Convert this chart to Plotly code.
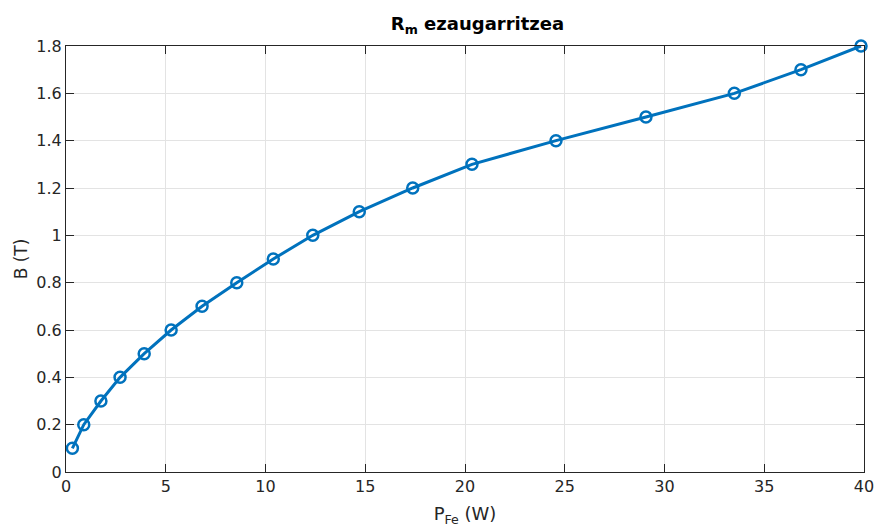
import plotly.graph_objects as go

# Data
P_Fe = [0.32, 0.89, 1.75, 2.71, 3.92, 5.27, 6.82, 8.56, 10.39, 12.37,
        14.70, 17.38, 20.35, 24.56, 29.07, 33.50, 36.84, 39.85]
B = [0.1, 0.2, 0.3, 0.4, 0.5, 0.6, 0.7, 0.8, 0.9, 1.0,
     1.1, 1.2, 1.3, 1.4, 1.5, 1.6, 1.7, 1.8]

x_ticks = [0, 5, 10, 15, 20, 25, 30, 35, 40]
y_ticks = [0, 0.2, 0.4, 0.6, 0.8, 1.0, 1.2, 1.4, 1.6, 1.8]
y_ticklabels = ["0", "0.2", "0.4", "0.6", "0.8", "1", "1.2", "1.4", "1.6", "1.8"]

LINE = "#0072BD"
AX = "#262626"
GRID = "#e3e3e3"
FONT = "DejaVu Sans"

fig = go.Figure()
fig.add_trace(go.Scatter(
    x=P_Fe, y=B, mode="lines+markers", cliponaxis=False,
    line=dict(color=LINE, width=3),
    marker=dict(symbol="circle-open", size=11, color=LINE, line=dict(width=2.5, color=LINE)),
    showlegend=False,
))

axis_common = dict(
    showline=True, linecolor=AX, linewidth=1, mirror="ticks",
    ticks="inside", ticklen=8, tickwidth=1, tickcolor=AX,
    showgrid=True, gridcolor=GRID, gridwidth=1, zeroline=False,
    tickfont=dict(family=FONT, size=16, color=AX), automargin=False,
)

fig.update_layout(
    width=875, height=527,
    margin=dict(l=66, r=11, t=46, b=55),
    paper_bgcolor="white", plot_bgcolor="white",
    title=dict(text="<b>R<sub>m</sub> ezaugarritzea</b>", x=477.5 / 875, xref="container",
               xanchor="center", y=1 - 24 / 527, yanchor="middle",
               font=dict(family=FONT, size=18, color="black")),
    xaxis=dict(range=[0, 40], tickvals=x_ticks, ticktext=[str(v) for v in x_ticks],
               title=dict(text="P<sub>Fe</sub> (W)", standoff=14,
                          font=dict(family=FONT, size=18, color=AX)),
               **axis_common),
    yaxis=dict(range=[0, 1.8], tickvals=y_ticks, ticktext=y_ticklabels,
               title=dict(text="B (T)", standoff=4,
                          font=dict(family=FONT, size=17, color=AX)),
               **axis_common),
)

fig.write_html("out.html", config={"displayModeBar": False},
               post_script="document.body.style.margin='0';document.body.style.overflow='hidden';")
